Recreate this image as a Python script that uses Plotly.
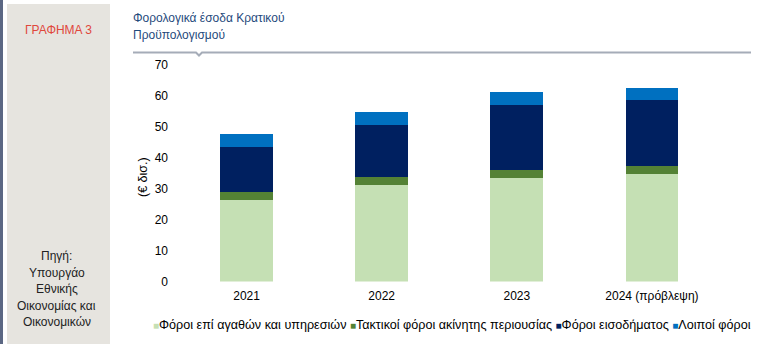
import plotly.graph_objects as go

W, H = 761, 344

categories = ["2021", "2022", "2023", "2024 (πρόβλεψη)"]
series_names = [
    "Φόροι επί αγαθών και υπηρεσιών",
    "Τακτικοί φόροι ακίνητης περιουσίας",
    "Φόροι εισοδήματος",
    "Λοιποί φόροι",
]
goods_services = [26.4, 31.2, 33.6, 34.9]
property_tax = [2.6, 2.6, 2.5, 2.5]
income_tax = [14.6, 16.9, 20.9, 21.4]
other_tax = [4.1, 4.2, 4.3, 3.9]
series_values = [goods_services, property_tax, income_tax, other_tax]
colors = ["#C5E0B4", "#548235", "#002060", "#0070C0"]

y_ticks = [0, 10, 20, 30, 40, 50, 60, 70]

FONT = "Liberation Sans, Arial, sans-serif"

fig = go.Figure()
for name, vals, col in zip(series_names, series_values, colors):
    fig.add_trace(go.Bar(x=categories, y=vals, name=name, marker_color=col,
                         marker_line_width=0, showlegend=False))

def px(x):
    return x / W

def py(y):
    return 1 - y / H

x0, x1 = 179, 719.5
ytop, ybot = 65, 281.5

fig.update_layout(
    width=W, height=H, autosize=False,
    margin=dict(l=0, r=0, t=0, b=0, pad=0),
    paper_bgcolor="white", plot_bgcolor="white",
    barmode="stack", bargap=0.61,
    showlegend=False,
    font=dict(family=FONT, size=12, color="#000000"),
    xaxis=dict(domain=[px(x0), px(x1)], showgrid=False, zeroline=False,
               showline=False, ticks="", tickfont=dict(size=12),
               ticklabelstandoff=5, automargin=False, fixedrange=True),
    yaxis=dict(domain=[py(ybot), py(ytop)], range=[0, 70], tickvals=y_ticks,
               showgrid=False, zeroline=False, showline=False, ticks="",
               ticklabelstandoff=10, tickfont=dict(size=12),
               automargin=False, fixedrange=True),
)

shapes = []
# left dark strip
shapes.append(dict(type="rect", xref="paper", yref="paper", x0=0, x1=px(3),
                   y0=0, y1=1, fillcolor="#5B6783", line_width=0, layer="below"))
# left gray panel
shapes.append(dict(type="rect", xref="paper", yref="paper", x0=px(7), x1=px(110),
                   y0=0, y1=py(4), fillcolor="#E6E4DF", line_width=0, layer="below"))
# header line with notch
path = "M {a},{b} L {c},{b} L {d},{e} L {f},{b} L {g},{b}".format(
    a=px(133), b=py(52.5), c=px(196), d=px(199), e=py(55.5), f=px(202), g=px(751))
shapes.append(dict(type="path", xref="paper", yref="paper", path=path,
                   line=dict(color="#A5ACB8", width=2)))

annotations = []
annotations.append(dict(text="ΓΡΑΦΗΜΑ 3", xref="paper", yref="paper",
                        x=px(58), y=py(30), xanchor="center", yanchor="middle",
                        showarrow=False,
                        font=dict(size=12, color="#E0473C", family=FONT)))
title_lines = ["Φορολογικά έσοδα Κρατικού", "Προϋπολογισμού"]
for i, ln in enumerate(title_lines):
    annotations.append(dict(text=ln, xref="paper", yref="paper",
                            x=px(131), y=py(18 + i * 17),
                            xanchor="left", yanchor="middle", showarrow=False,
                            font=dict(size=12, color="#1F4A7C", family=FONT)))
source_lines = ["Πηγή:", "Υπουργάο", "Εθνικής", "Οικονομίας και", "Οικονομικών"]
for i, ln in enumerate(source_lines):
    annotations.append(dict(text=ln, xref="paper", yref="paper",
                            x=px(57), y=py(256 + i * 16.6),
                            xanchor="center", yanchor="middle", showarrow=False,
                            font=dict(size=12, color="#222222", family=FONT)))
annotations.append(dict(text="(€ δισ.)", xref="paper", yref="paper",
                        x=px(143), y=py(177), textangle=-90,
                        xanchor="center", yanchor="middle", showarrow=False,
                        font=dict(size=12.5, color="#000000", family=FONT)))
legend_text = " ".join(
    "<span style='color:{c};font-size:10px'>■</span>{n}".format(c=c, n=n)
    for n, c in zip(series_names, colors))
annotations.append(dict(text=legend_text, xref="paper", yref="paper",
                        x=px(452), y=py(325), xanchor="center", yanchor="middle",
                        showarrow=False,
                        font=dict(size=12.6, color="#000000", family=FONT)))

fig.update_layout(shapes=shapes, annotations=annotations)

fig.write_html("out.html")
